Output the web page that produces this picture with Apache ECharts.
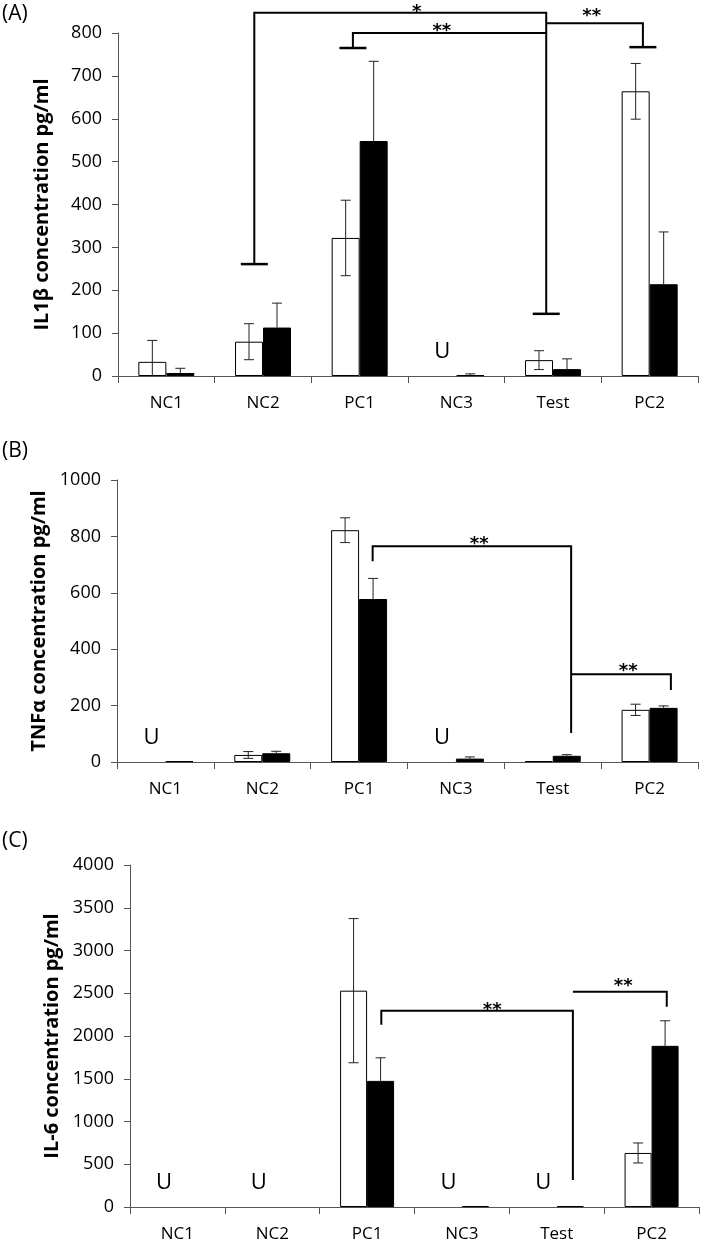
<!DOCTYPE html>
<html><head><meta charset="utf-8">
<script src="https://cdn.jsdelivr.net/npm/echarts@6/dist/echarts.min.js"></script>
<style>html,body{margin:0;padding:0;background:#fff}#c{width:709px;height:1244px}</style>
</head><body><div id="c"></div>
<script>
// ---------- DATA ----------
const categories = ['NC1', 'NC2', 'PC1', 'NC3', 'Test', 'PC2'];

// Panel A : IL1β
const whiteA = [33, 80, 322, 0, 37, 664];
const whiteErrA = [50, 42, 88, 0, 22, 65];
const blackA = [7, 113, 548, 2, 16, 214];
const blackErrA = [11, 57, 186, 3, 24, 122];
const undetectedA = ['NC3'];
const yAxisA = { min: 0, max: 800, interval: 100 };
// brackets: [xStart, xEnd, yLine, yDropStart, yDropEnd, capStart, capEnd]  (x in category units)
const bracketsA = [
  [1.41, 4.43, 847, 261, 145, 1, 1],
  [2.43, 4.43, 800, 765, 800, 1, 0],
  [4.43, 5.43, 823, 823, 767, 0, 1]
];
const starsA = [[3.09, 858, '*'], [3.35, 814, '**'], [4.90, 848, '**']];

// Panel B : TNFα
const whiteB = [0, 25, 822, 0, 3, 185];
const whiteErrB = [0, 12, 44, 0, 0, 20];
const blackB = [3, 31, 578, 12, 22, 192];
const blackErrB = [0, 7, 73, 6, 4, 7];
const undetectedB = ['NC1', 'NC3'];
const yAxisB = { min: 0, max: 1000, interval: 200 };
const bracketsB = [
  [2.64, 4.69, 765, 712, 103, 0, 0],
  [4.69, 5.72, 311, 311, 255, 0, 0]
];
const starsB = [[3.74, 786, '**'], [5.28, 336, '**']];

// Panel C : IL-6
const whiteC = [0, 0, 2530, 0, 0, 632];
const whiteErrC = [0, 0, 843, 0, 0, 117];
const blackC = [0, 0, 1475, 10, 10, 1885];
const blackErrC = [0, 0, 270, 0, 0, 293];
const undetectedC = ['NC1', 'NC2', 'NC3', 'Test'];
const yAxisC = { min: 0, max: 4000, interval: 500 };
const bracketsC = [
  [2.65, 4.67, 2295, 2131, 316, 0, 0],
  [4.67, 5.66, 2518, 2518, 2342, 0, 0]
];
const starsC = [[3.82, 2342, '**'], [5.20, 2623, '**']];

// ---------- LAYOUT / STYLE ----------
const FONT = 'Open Sans';
const panels = [
  { tag: '(A)', tagTop: 4, name: 'IL1β concentration pg/ml', grid: { left: 118, top: 33, width: 580, height: 343 }, bw: 28,
    white: whiteA, whiteErr: whiteErrA, black: blackA, blackErr: blackErrA, und: undetectedA, y: yAxisA, br: bracketsA, st: starsA },
  { tag: '(B)', tagTop: 441, name: 'TNFα concentration pg/ml', grid: { left: 117, top: 480, width: 581, height: 282 }, bw: 28,
    white: whiteB, whiteErr: whiteErrB, black: blackB, blackErr: blackErrB, und: undetectedB, y: yAxisB, br: bracketsB, st: starsB },
  { tag: '(C)', tagTop: 831, name: 'IL-6 concentration pg/ml', grid: { left: 130, top: 865, width: 569, height: 342 }, bw: 27,
    white: whiteC, whiteErr: whiteErrC, black: blackC, blackErr: blackErrC, und: undetectedC, y: yAxisC, br: bracketsC, st: starsC }
];

const AXIS_COLOR = '#555';
const grids = [], xAxes = [], yAxes = [], series = [], graphics = [];
const barValue = v => (v > 0 ? v : '-');

panels.forEach((p, g) => {
  grids.push(Object.assign({ containLabel: false }, p.grid));
  xAxes.push({
    type: 'category', gridIndex: g, data: categories,
    axisLine: { lineStyle: { color: AXIS_COLOR, width: 1 } },
    axisTick: { show: true, length: 7, interval: 0, lineStyle: { color: AXIS_COLOR } },
    axisLabel: { color: '#000', fontFamily: FONT, fontSize: 17, margin: 19, interval: 0 },
    splitLine: { show: false }
  });
  xAxes.push({ type: 'value', gridIndex: g, min: 0, max: 6, show: false });
  yAxes.push({
    type: 'value', gridIndex: g, min: p.y.min, max: p.y.max, interval: p.y.interval,
    name: p.name, nameLocation: 'middle', nameGap: 66,
    nameTextStyle: { color: '#000', fontFamily: FONT, fontWeight: 'bold', fontSize: 20 },
    axisLine: { show: true, lineStyle: { color: AXIS_COLOR, width: 1 } },
    axisTick: { show: true, length: 6, lineStyle: { color: AXIS_COLOR } },
    axisLabel: { color: '#000', fontFamily: FONT, fontSize: 18, margin: 16, formatter: v => String(v) },
    splitLine: { show: false }
  });
  graphics.push({ type: 'text', left: 2, top: p.tagTop, style: { text: p.tag, fontFamily: FONT, fontSize: 21, fill: '#000' } });

  const xi = 2 * g;
  series.push({
    type: 'bar', xAxisIndex: xi, yAxisIndex: g, data: p.white.map(barValue), barWidth: p.bw, barGap: '0%',
    itemStyle: { color: '#fff', borderColor: '#000', borderWidth: 1 }, silent: true, z: 2
  });
  series.push({
    type: 'bar', xAxisIndex: xi, yAxisIndex: g, data: p.black.map(barValue), barWidth: p.bw, barGap: '0%',
    itemStyle: { color: '#000', borderColor: '#000', borderWidth: 1 }, silent: true, z: 2
  });
  // error bars (lower half of black-bar error bars is hidden inside the black bar)
  const errData = [];
  categories.forEach((c, i) => {
    errData.push([i, p.white[i], p.whiteErr[i], -1]);
    errData.push([i, p.black[i], p.blackErr[i], 1]);
  });
  const bw = p.bw;
  series.push({
    type: 'custom', xAxisIndex: xi, yAxisIndex: g, data: errData, z: 5, silent: true, clip: false,
    encode: { x: 0, y: 1 },
    renderItem: (params, api) => {
      const idx = api.value(0), m = api.value(1), e = api.value(2), side = api.value(3);
      if (!e) return null;
      const base = api.coord([idx, m]);
      const x = base[0] + side * bw / 2;
      const top = api.coord([idx, m + e])[1];
      const lowV = m - e;
      const bot = side > 0 ? base[1] : api.coord([idx, Math.max(0, lowV)])[1];
      const st = { stroke: '#222', lineWidth: 1 };
      const ch = [{ type: 'line', shape: { x1: x, y1: top, x2: x, y2: bot }, style: st },
                  { type: 'line', shape: { x1: x - 5, y1: top, x2: x + 5, y2: top }, style: st }];
      if (side < 0 && lowV > 0) ch.push({ type: 'line', shape: { x1: x - 5, y1: bot, x2: x + 5, y2: bot }, style: st });
      return { type: 'group', children: ch };
    }
  });
  // undetected "U"
  series.push({
    type: 'custom', xAxisIndex: xi, yAxisIndex: g, silent: true, z: 6, clip: false,
    data: p.und.map(n => [categories.indexOf(n), 0]),
    encode: { x: 0, y: 1 },
    renderItem: (params, api) => {
      const pt = api.coord([api.value(0), 0]);
      return { type: 'text', style: { text: 'U', x: pt[0] - bw / 2, y: pt[1] - 13, fontFamily: FONT, fontSize: 22,
        fill: '#000', textAlign: 'center', textVerticalAlign: 'bottom' } };
    }
  });
  // significance brackets
  series.push({
    type: 'custom', xAxisIndex: xi + 1, yAxisIndex: g, data: p.br, z: 8, silent: true, clip: false,
    encode: { x: [0, 1], y: [2, 3, 4] },
    renderItem: (params, api) => {
      const x1 = api.value(0), x2 = api.value(1), y = api.value(2), y1 = api.value(3), y2 = api.value(4);
      const a = api.coord([x1, y]), b = api.coord([x2, y]), a2 = api.coord([x1, y1]), b2 = api.coord([x2, y2]);
      const ls = { stroke: '#000', lineWidth: 2, fill: 'none' };
      const ch = [{ type: 'polyline', shape: { points: [a2, a, b, b2] }, style: ls }];
      const cs = { stroke: '#000', lineWidth: 2.5 };
      if (api.value(5)) ch.push({ type: 'line', shape: { x1: a2[0] - 13.5, y1: a2[1], x2: a2[0] + 13.5, y2: a2[1] }, style: cs });
      if (api.value(6)) ch.push({ type: 'line', shape: { x1: b2[0] - 13.5, y1: b2[1], x2: b2[0] + 13.5, y2: b2[1] }, style: cs });
      return { type: 'group', children: ch };
    }
  });
  const stars = p.st;
  series.push({
    type: 'custom', xAxisIndex: xi + 1, yAxisIndex: g, data: stars.map(s => [s[0], s[1]]), z: 9, silent: true, clip: false,
    encode: { x: 0, y: 1 },
    renderItem: (params, api) => {
      const pt = api.coord([api.value(0), api.value(1)]);
      return { type: 'text', style: { text: stars[params.dataIndex][2], x: pt[0], y: pt[1] + 4, fontFamily: 'DejaVu Sans',
        fontWeight: 'bold', fontSize: 18, fill: '#000', textAlign: 'center', textVerticalAlign: 'middle' } };
    }
  });
});

const chart = echarts.init(document.getElementById('c'), null, { renderer: 'canvas' });
chart.setOption({
  backgroundColor: '#fff',
  animation: false,
  grid: grids, xAxis: xAxes, yAxis: yAxes, series: series, graphic: graphics
});
</script></body></html>
